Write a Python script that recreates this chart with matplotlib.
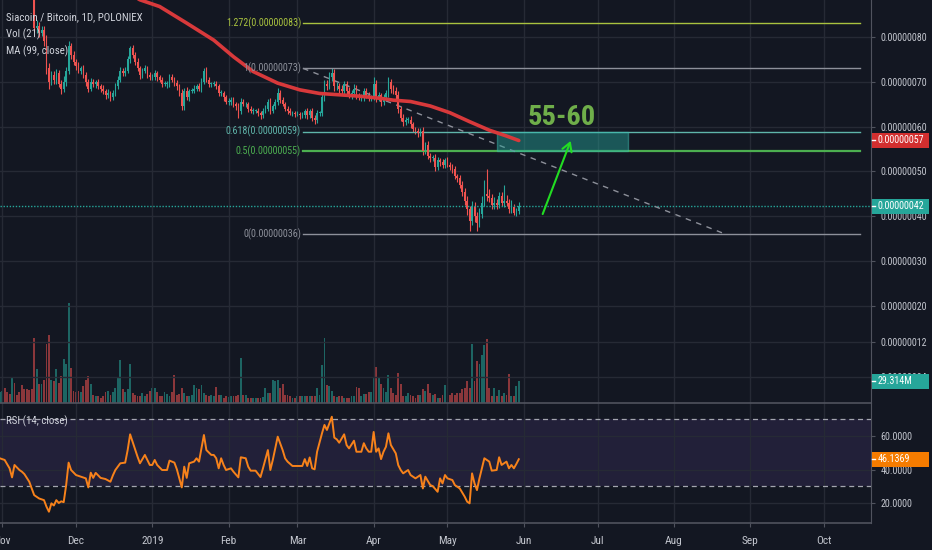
import numpy as np
import pandas as pd
import matplotlib
matplotlib.use("Agg")
import matplotlib.pyplot as plt
import matplotlib.font_manager as fm
from matplotlib.patches import Rectangle
from matplotlib.transforms import IdentityTransform
from matplotlib.lines import Line2D

BG = "#131722"
GRID = "#262a35"
SPINE = "#50535e"
TXT = "#c3c6ce"
UP = "#26a69a"
DN = "#ef5350"

# ---------------- data (prices in units of 1e-8 BTC) ----------------
base = pd.Timestamp("2018-11-01")
first_day = -1          # first candle: 2018-10-31
open_first = 100.0
close = [
    101, 101.5, 100.5, 99.5, 97, 99, 98.5, 98, 97, 96.5,
    95.5, 93.5, 92, 90, 82, 82.5, 81, 81.5, 79, 73,
    70, 71.5, 70.5, 72, 69.5, 68.5, 70, 72.5, 78, 76,
    74.5, 73.5, 72.5, 73, 71.5, 70, 68.5, 70, 69.5, 70,
    69, 68.5, 68, 67, 67.5, 66.5, 67.5, 69, 70.5, 72.5,
    72, 72.5, 75, 77.5, 76, 74.5, 73, 71.5, 72.5, 73,
    71.5, 71, 71, 72, 71, 70.5, 69.5, 69.5, 69.5, 71,
    70.5, 69.8, 69, 67.5, 64.5, 68, 66.5, 68, 68, 68.5,
    69, 68.5, 70, 72.5, 70.5, 69.5, 69.5, 69.5, 69, 67.5,
    67.5, 66.5, 65.5, 65.5, 66, 65, 64.5, 63.5, 65.5, 65,
    65, 64, 63.5, 63.5, 63.5, 63, 62.5, 63.5, 64, 65.5,
    63.5, 64.5, 65.5, 67.5, 66, 65, 64, 63.5, 63, 63,
    62.8, 62.8, 62.5, 62.5, 63.5, 62.5, 63.5, 62, 61.5, 63,
    63, 66.5, 69.5, 69, 71, 72, 69, 69, 68.5, 68,
    69.5, 68, 67, 67.5, 68.5, 67, 66.5, 66.5, 68, 67,
    66.5, 66.5, 69.5, 66.5, 67, 65.5, 66.5, 67.5, 70, 68.5,
    68, 67, 64, 62, 61, 61.5, 61.5, 60.5, 59.5, 59,
    58.5, 59, 54.5, 56, 53.5, 53, 53, 51, 52.5, 52,
    51.5, 52.5, 51.5, 51, 50.5, 49, 48.5, 47, 45.5, 43.5,
    41.5, 39, 42, 40, 38.5, 40.5, 43, 45, 44.5, 44,
    42.5, 43, 42.5, 44.5, 43, 43.5, 43, 41.5, 42, 40.8,
    41.2, 42.2,
]
wick_up = [
    1.0, 0.8, 1.2, 0.6, 1.0, 0.9, 0.7, 1.1, 0.6, 0.8,
    0.7, 0.9, 0.6, 1.0, 2.0, 1.2, 0.8, 1.0, 0.9, 1.5,
    1.2, 0.8, 1.0, 0.9, 0.6, 0.8, 1.2, 0.9, 1.0, 0.6,
    0.8, 0.7, 1.0, 0.5, 0.8, 0.6, 0.7, 0.9, 0.6, 0.5,
    0.6, 0.5, 0.7, 0.4, 0.8, 0.5, 0.6, 0.7, 0.9, 0.8,
    0.6, 0.9, 0.8, 0.5, 0.7, 0.6, 0.8, 0.5, 0.6, 0.7,
    0.5, 0.6, 0.8, 0.7, 0.5, 0.6, 0.5, 0.7, 0.6, 0.8,
    0.7, 0.6, 0.5, 0.6, 0.8, 0.6, 0.9, 0.5, 0.6, 0.7,
    0.6, 0.8, 0.9, 0.5, 0.8, 0.6, 0.5, 0.7, 0.6, 0.5,
    0.7, 0.5, 0.6, 0.8, 0.5, 0.6, 0.5, 0.7, 0.9, 0.6,
    0.6, 0.5, 0.7, 0.6, 0.5, 0.6, 0.5, 0.6, 0.8, 0.7,
    0.9, 0.6, 0.7, 1.1, 0.6, 0.5, 0.6, 0.5, 0.6, 0.5,
    0.5, 0.6, 0.5, 0.7, 0.5, 0.6, 0.5, 0.6, 0.7, 0.6,
    0.5, 0.8, 1.0, 0.9, 1.2, 1.0, 0.8, 0.9, 0.7, 0.8,
    0.6, 0.7, 0.8, 0.6, 0.9, 0.7, 0.6, 0.8, 0.7, 0.6,
    0.7, 0.6, 1.5, 0.8, 0.7, 0.6, 0.8, 0.6, 1.0, 0.7,
    0.8, 0.9, 1.0, 0.7, 0.8, 0.6, 0.7, 0.8, 0.6, 0.5,
    0.7, 0.6, 1.0, 0.6, 0.8, 0.7, 0.6, 0.8, 0.7, 0.6,
    0.8, 0.6, 0.7, 0.5, 0.6, 0.7, 0.5, 0.6, 0.8, 0.9,
    1.0, 0.8, 1.5, 1.2, 1.0, 1.4, 1.5, 3.0, 5.5, 1.5,
    1.0, 1.2, 0.8, 1.0, 0.9, 3.5, 1.2, 0.8, 1.6, 0.7,
    0.6, 0.9,
]
wick_dn = [
    0.8, 1.0, 0.7, 0.9, 1.2, 0.6, 0.8, 0.7, 1.0, 0.9,
    0.8, 0.7, 1.0, 0.9, 0.8, 1.0, 0.9, 0.8, 1.0, 1.2,
    1.5, 0.8, 1.0, 0.9, 0.7, 1.2, 0.8, 0.9, 0.7, 0.8,
    0.7, 0.9, 0.6, 0.8, 0.7, 0.9, 0.8, 0.6, 0.7, 0.8,
    0.6, 0.7, 0.8, 0.9, 0.6, 0.8, 0.5, 0.6, 0.7, 0.5,
    0.8, 0.6, 0.5, 0.7, 0.6, 0.8, 0.7, 0.9, 0.6, 0.5,
    0.7, 0.6, 0.5, 0.6, 0.8, 0.6, 0.7, 0.5, 0.8, 0.6,
    0.6, 0.7, 0.8, 0.6, 0.9, 0.7, 0.6, 0.8, 0.6, 0.5,
    0.6, 0.5, 0.7, 0.6, 0.5, 0.7, 0.6, 0.5, 0.7, 0.6,
    0.6, 0.7, 0.5, 0.6, 0.7, 0.6, 0.8, 1.5, 0.6, 0.5,
    0.6, 0.7, 0.5, 0.6, 0.5, 0.7, 0.8, 0.6, 0.5, 0.6,
    0.7, 0.5, 0.6, 0.6, 0.7, 0.5, 0.6, 0.7, 0.5, 0.6,
    0.6, 0.5, 0.7, 0.6, 0.5, 0.7, 0.6, 0.8, 1.0, 0.6,
    0.7, 0.6, 0.8, 0.9, 0.7, 0.8, 1.0, 0.8, 0.9, 0.7,
    0.8, 0.7, 0.6, 0.9, 0.7, 0.8, 0.6, 0.7, 0.8, 0.6,
    0.7, 0.8, 0.6, 0.9, 0.7, 0.8, 0.6, 0.7, 0.8, 0.9,
    0.7, 0.8, 0.9, 0.7, 0.8, 0.6, 0.7, 0.8, 0.6, 0.7,
    0.8, 0.6, 0.9, 0.7, 0.8, 0.9, 0.7, 0.8, 0.6, 0.7,
    0.7, 0.8, 0.6, 0.7, 0.8, 0.7, 0.9, 0.8, 0.9, 1.0,
    1.2, 2.2, 1.0, 1.2, 1.8, 1.0, 0.9, 0.8, 1.0, 0.8,
    0.9, 0.8, 1.0, 0.7, 0.8, 0.9, 0.7, 0.8, 0.7, 0.6,
    0.7, 0.8,
]
volume_m = [
    15, 16, 20, 15, 12, 34, 27, 11, 14, 24,
    18, 18, 17, 18, 87, 45, 25, 25, 30, 79,
    90, 30, 29, 45, 27, 36, 58, 52, 133, 47,
    16, 15, 16, 14, 22, 31, 36, 25, 11, 9,
    9, 7, 9, 15, 16, 11, 14, 20, 33, 57,
    18, 15, 18, 52, 13, 11, 9, 9, 13, 9,
    12, 16, 20, 20, 14, 9, 9, 15, 12, 9,
    14, 37, 11, 12, 20, 13, 9, 9, 10, 24,
    20, 18, 24, 13, 10, 9, 10, 9, 21, 11,
    11, 7, 9, 8, 9, 9, 9, 10, 60, 11,
    11, 6, 6, 6, 6, 6, 6, 8, 20, 13,
    13, 30, 29, 30, 20, 25, 11, 11, 9, 7,
    7, 9, 9, 9, 9, 9, 9, 9, 9, 20,
    10, 50, 87, 24, 22, 16, 9, 8, 9, 9,
    7, 7, 7, 9, 9, 21, 20, 9, 12, 12,
    15, 14, 34, 48, 33, 25, 20, 15, 37, 20,
    13, 11, 40, 25, 9, 9, 13, 11, 9, 7,
    11, 11, 18, 16, 25, 13, 10, 12, 7, 7,
    10, 24, 16, 11, 13, 11, 13, 13, 18, 20,
    29, 20, 78, 29, 56, 52, 64, 77, 85, 20,
    9, 20, 9, 17, 9, 13, 11, 38, 9, 9,
    22, 29.314,
]
# RSI(14) read at its turning points (day offsets from 2018-11-01)
rsi_day = [-1, 1, 3, 4, 5, 7, 8, 9, 11, 12, 13, 15, 17, 18, 19, 20, 21, 22, 23, 24,
           25, 26, 27, 28, 30, 32, 34, 35, 36, 37, 38, 40, 42, 44, 45, 46, 48, 50, 51, 52,
           53, 55, 56, 58, 60, 61, 62, 63, 65, 67, 68, 70, 71, 73, 74, 75, 76, 78, 79, 80,
           82, 83, 85, 86, 87, 88, 89, 90, 91, 93, 94, 96, 97, 99, 100, 101, 103, 105, 106, 108,
           109, 110, 112, 114, 115, 116, 118, 120, 122, 123, 124, 125, 126, 127, 128, 130, 131, 132, 134, 135,
           136, 137, 139, 140, 141, 143, 144, 146, 147, 148, 149, 150, 151, 152, 153, 154, 155, 156, 157, 158,
           160, 161, 162, 163, 165, 166, 168, 170, 171, 172, 174, 175, 177, 178, 179, 180, 181, 183, 184, 186,
           188, 189, 190, 191, 192, 193, 194, 196, 198, 199, 201, 202, 203, 205, 206, 207, 208, 209, 210]
rsi_val = [46.7, 45.7, 40.7, 35.3, 42.7, 39.7, 38.7, 37.3, 32.7, 28.7, 24.7, 22.7, 21.7, 17.8, 14.8, 19.8, 18.5, 21.7, 20.0, 21.0,
           20.5, 30.7, 44.1, 39.7, 36.7, 35.7, 34.7, 29.3, 38.1, 35.0, 38.0, 35.0, 34.3, 32.7, 36.5, 39.7, 43.7, 44.1, 51.6, 61.0,
           56.6, 47.7, 43.7, 48.7, 42.7, 42.7, 45.7, 42.7, 39.7, 39.7, 45.3, 44.1, 40.1, 29.3, 41.7, 35.0, 43.7, 44.7, 46.7, 44.7,
           60.6, 51.6, 48.7, 48.7, 46.7, 40.7, 46.7, 42.7, 39.7, 40.7, 38.7, 35.3, 47.3, 46.7, 41.7, 39.3, 39.3, 35.5, 40.7, 51.6,
           39.7, 45.7, 59.6, 51.6, 46.7, 44.7, 42.1, 42.1, 42.1, 46.2, 42.1, 47.2, 40.7, 40.1, 50.6, 61.6, 66.6, 63.6, 71.5, 59.0,
           58.0, 56.0, 61.0, 54.6, 52.6, 57.2, 50.6, 50.6, 55.7, 52.6, 50.6, 50.6, 62.4, 50.6, 52.6, 46.2, 50.6, 53.6, 61.6, 54.6,
           49.6, 42.6, 39.7, 37.7, 39.7, 36.7, 34.7, 36.7, 28.7, 35.7, 30.7, 30.1, 26.7, 34.7, 31.7, 36.7, 34.7, 33.7, 30.7, 28.7,
           23.8, 20.8, 19.8, 37.7, 31.7, 27.7, 34.7, 46.7, 44.7, 39.3, 39.7, 47.3, 42.7, 44.7, 40.7, 42.7, 40.7, 43.3, 46.1369]
# MA(99, close)
ma_day = [40, 56, 64, 75, 86, 94, 102, 112, 121, 129, 137, 145, 154, 159, 166, 174, 182, 190, 198, 205, 210]
ma_val = [93, 88.3, 86.8, 83.1, 79.3, 75.6, 72.3, 69.7, 68.2, 67.4, 67.1, 66.8, 66.3, 65.9, 65.6, 64.6, 63.1,
          61.1, 59.2, 57.9, 56.9]
ma_last_label = "0.00000057"
# Fibonacci retracement drawing
fib_start_day, fib_end_day = 122.3, 348.7
fib_prices = [83.06, 73.0, 58.87, 54.5, 36.0]
fib_labels = ["1.272(0.00000083)", "1(0.00000073)", "0.618(0.00000059)", "0.5(0.00000055)", "0(0.00000036)"]
fib_colors = ["#a9c23f", "#8d909a", "#5fb5aa", "#4caf50", "#8d909a"]
trend_days = (122.3, 294.0)
trend_prices = (73.0, 36.0)
# target box, text and arrow
box_days = (201.0, 254.4)
box_prices = (54.5, 58.87)
target_text = "55-60"
target_pos = (227.5, 62.0)
arrow_from = (219.3, 39.9)
arrow_to = (231.5, 57.4)
month_labels = ["Nov", "Dec", "2019", "Feb", "Mar", "Apr", "May", "Jun", "Jul", "Aug", "Sep", "Oct"]
price_ticks = [80, 70, 60, 50, 40, 30, 20, 12, 4]
rsi_ticks = [20, 40, 60]
last_vol_label = "29.314M"
last_rsi_label = "46.1369"

# ---------------- fonts ----------------
_prefer = ["Liberation Sans Narrow", "DejaVu Sans Condensed", "Roboto Condensed",
           "Open Sans Condensed", "Noto Sans Condensed", "Arial Narrow"]
_found = {}
for f in fm.fontManager.ttflist:
    nm = f.name
    if ("Narrow" in nm or "Condensed" in nm or f.stretch in ("condensed", "semi-condensed")) \
            and f.style == "normal":
        w = f.weight if isinstance(f.weight, int) else (700 if "bold" in str(f.weight) else 400)
        _found.setdefault((nm, w >= 600), f.fname)
NARROW = None
for p in _prefer:
    if (p, False) in _found:
        NARROW = p
        break
if NARROW is None:
    for (nm, b) in _found:
        if not b and ("Sans" in nm or "Roboto" in nm or "Lato" in nm or "Inter" in nm):
            NARROW = nm
            break
SC = 1.0 if NARROW else 0.86


def fp(size, bold=False):
    if NARROW:
        fn = _found.get((NARROW, bold)) or _found.get((NARROW, False))
        return fm.FontProperties(fname=fn, size=size)
    return fm.FontProperties(family="Liberation Sans", size=size * SC,
                             weight="bold" if bold else "normal")


# ---------------- derived ----------------
days = np.arange(first_day, first_day + len(close))
c = np.array(close, float)
o = np.array([open_first] + close[:-1], float)
hi = np.maximum(o, c) + np.array(wick_up)
lo = np.minimum(o, c) - np.array(wick_dn)
up = c >= o
cols = np.where(up, UP, DN)
months = pd.date_range("2018-11-01", periods=12, freq="MS")
month_x = np.array((months - base).days, float)

# ---------------- figure ----------------
W, H = 932, 550
XR = 871      # right edge of plotting panes (px)
fig = plt.figure(figsize=(W / 100, H / 100), dpi=100, facecolor=BG)
ax = fig.add_axes([0, (H - 403) / H, XR / W, 403 / H])
vax = ax.twinx()
axr = fig.add_axes([0, (H - 523) / H, XR / W, 120 / H], sharex=ax)

xlim = ((0 - 2.2) / 2.46, (XR - 2.2) / 2.46)
ax.set_xlim(*xlim)
ax.set_ylim(80 - (403 - 37) / 4.48, 80 + 37 / 4.48)
vax.set_ylim(0, 537)
axr.set_ylim(20 - 20 / 1.675, 60 + 33 / 1.675)

ax.set_zorder(3)
ax.patch.set_visible(False)
vax.set_zorder(2)
vax.patch.set_facecolor(BG)
axr.set_facecolor(BG)

for a in (ax, vax, axr):
    for s in a.spines.values():
        s.set_visible(False)
for a in (ax, axr):
    a.spines["right"].set_visible(True)
    a.spines["right"].set_color(SPINE)
    a.spines["bottom"].set_visible(True)
    a.spines["bottom"].set_color(SPINE)
    a.spines["bottom"].set_linewidth(1.2)

for a in (ax, axr):
    a.set_xticks(month_x)
    a.grid(True, color=GRID, lw=1.0, zorder=0)
ax.tick_params(axis="x", length=0, labelbottom=False)
vax.set_yticks([])
vax.tick_params(axis="both", length=0)

ax.yaxis.tick_right()
ax.set_yticks(price_ticks)
ax.set_yticklabels([f"{v / 1e8:.8f}" for v in price_ticks])
axr.yaxis.tick_right()
axr.set_yticks(rsi_ticks)
axr.set_yticklabels([f"{v:.4f}" for v in rsi_ticks])
for a in (ax, axr):
    a.tick_params(axis="y", direction="out", length=3, color=SPINE, labelcolor=TXT, pad=4)
    for lab in a.get_yticklabels():
        lab.set_fontproperties(fp(7.2))
axr.set_xticklabels(month_labels)
axr.tick_params(axis="x", direction="out", length=3, color=SPINE, labelcolor=TXT, pad=6)
for lab in axr.get_xticklabels():
    lab.set_fontproperties(fp(8.2))

# volume
vax.bar(days, volume_m, width=0.75, color=cols, alpha=0.55, linewidth=0)

# candles
ax.vlines(days, lo, hi, colors=cols, lw=0.8, zorder=4)
body_h = np.maximum(np.abs(c - o), 0.15)
ax.bar(days, body_h, bottom=np.minimum(o, c), width=0.66, color=cols, linewidth=0, zorder=5)

# MA 99
ax.plot(ma_day, ma_val, color="#d8393b", lw=2.6, zorder=6, solid_capstyle="round")

# last price dotted line
ax.axhline(c[-1], color=UP, lw=1.0, ls=(0, (1, 1.2)), zorder=4)

# Fibonacci levels
for p, lab, col in zip(fib_prices, fib_labels, fib_colors):
    lw = 1.6 if lab.startswith("0.5") else 1.0
    ax.plot([fib_start_day, fib_end_day], [p, p], color=col, lw=lw, zorder=4)
    ax.text(fib_start_day - 0.8, p, lab, color=col, ha="right", va="center", zorder=7,
            fontproperties=fp(7.2))
ax.plot(trend_days, trend_prices, color="#8d909a", lw=1.0, ls=(0, (4, 4)), zorder=4)

# target box
ax.add_patch(Rectangle((box_days[0], box_prices[0]), box_days[1] - box_days[0],
                       box_prices[1] - box_prices[0], facecolor=UP, alpha=0.45,
                       edgecolor="#3fbfb2", lw=1.0, zorder=5))
ax.text(*target_pos, target_text, color="#6fae4a", ha="center", va="center", zorder=8,
        fontproperties=fp(20.5, bold=True))
ax.annotate("", xy=arrow_to, xytext=arrow_from,
            arrowprops=dict(arrowstyle="->,head_length=0.6,head_width=0.35",
                            color="#22dd22", lw=1.5), zorder=8)

# RSI
axr.axhspan(30, 70, color="#7e57c2", alpha=0.15, lw=0, zorder=1)
for lvl in (30, 70):
    axr.axhline(lvl, color="#a3a6af", lw=0.9, ls=(0, (4, 3)), zorder=2)
axr.plot(rsi_day, rsi_val, color="#f7821b", lw=1.4, zorder=4)

# legends
ident = IdentityTransform()
for ytop, s in [(17, "Siacoin / Bitcoin, 1D, POLONIEX"), (34, "Vol (21)"), (51, "MA (99, close)")]:
    fig.text(6, H - ytop, s, color="#d1d4dc", va="center", ha="left",
             transform=ident, zorder=10, fontproperties=fp(7.8))
fig.text(6, H - 421, "RSI (14, close)", color="#d1d4dc", va="center",
         ha="left", transform=ident, zorder=10, fontproperties=fp(7.8))

# axis value boxes
fig.canvas.draw()


def axis_box(axis, yval, text, color):
    ypix = axis.transData.transform((0, yval))[1]
    fig.add_artist(Rectangle((XR + 1, ypix - 7.5), W - XR - 4, 15, transform=ident,
                             facecolor=color, edgecolor="none", zorder=11))
    fig.add_artist(Line2D([XR + 1, XR + 4], [ypix, ypix], color="white", lw=1,
                          transform=ident, zorder=12))
    fig.text(XR + 7, ypix, text, color="white", va="center", ha="left",
             transform=ident, zorder=12, fontproperties=fp(7.2))


axis_box(ax, ma_val[-1], ma_last_label, "#d32f2f")
axis_box(ax, c[-1], f"{c[-1] / 1e8:.8f}", UP)
axis_box(vax, volume_m[-1], last_vol_label, UP)
axis_box(axr, rsi_val[-1], last_rsi_label, "#f57c00")

fig.savefig("out.png", dpi=100, facecolor=BG)
